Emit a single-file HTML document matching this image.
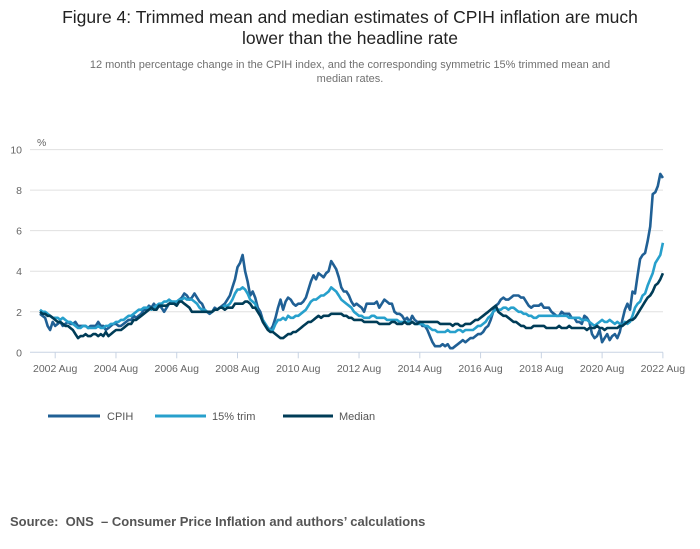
<!DOCTYPE html>
<html><head><meta charset="utf-8">
<style>
body{margin:0;width:700px;height:549px;background:#fff;font-family:"Liberation Sans",sans-serif;position:relative;overflow:hidden}
#title{position:absolute;top:7px;left:55px;width:590px;text-align:center;font-size:17.5px;line-height:21px;color:#222}
#sub{position:absolute;top:58px;left:75px;width:550px;text-align:center;font-size:11px;line-height:14px;color:#707070}
#src{position:absolute;top:514px;left:10px;font-size:13px;font-weight:bold;color:#555}
svg{position:absolute;left:0;top:0}
</style></head><body>
<div id="title">Figure 4: Trimmed mean and median estimates of CPIH inflation are much lower than the headline rate</div>
<div id="sub">12 month percentage change in the CPIH index, and the corresponding symmetric 15% trimmed mean and median rates.</div>
<svg id="chart" width="700" height="549"></svg>
<div id="src">Source:&nbsp; ONS &nbsp;– Consumer Price Inflation and authors’ calculations</div>
<script>
const cpih=[1.9,1.8,1.7,1.3,1.1,1.5,1.3,1.4,1.5,1.3,1.4,
1.5,1.4,1.4,1.5,1.3,1.3,1.3,1.3,1.2,1.3,1.3,1.3,
1.5,1.3,1.3,1.1,1.2,1.3,1.4,1.4,1.3,1.3,1.4,1.5,
1.6,1.6,1.8,1.7,1.8,1.9,2.1,2.1,2.3,2.2,2.4,2.2,
2.3,2.2,2.0,2.2,2.4,2.5,2.4,2.5,2.6,2.7,2.9,2.8,
2.6,2.7,2.9,2.7,2.5,2.4,2.1,2.0,1.9,2.0,2.2,2.1,
2.2,2.3,2.4,2.6,2.8,3.2,3.6,4.2,4.4,4.8,4.0,3.5,
2.8,3.0,2.7,2.2,2.0,1.6,1.4,1.2,1.1,1.3,1.7,2.2,
2.6,2.1,2.5,2.7,2.6,2.4,2.3,2.4,2.4,2.5,2.7,3.1,
3.5,3.8,3.6,3.9,3.8,3.7,3.9,4.0,4.5,4.3,4.1,3.7,
3.2,3.0,3.0,2.8,2.5,2.3,2.4,2.3,2.2,2.0,2.4,2.4,
2.4,2.4,2.5,2.2,2.4,2.6,2.5,2.4,2.4,2.0,1.9,1.9,
1.8,1.6,1.7,1.5,1.8,1.6,1.5,1.5,1.3,1.3,1.1,0.8,
0.5,0.3,0.3,0.3,0.4,0.3,0.4,0.2,0.2,0.3,0.4,0.5,
0.6,0.5,0.6,0.7,0.7,0.8,0.9,0.9,1.0,1.2,1.3,1.6,
2.0,2.3,2.4,2.6,2.7,2.6,2.6,2.7,2.8,2.8,2.8,2.7,
2.7,2.5,2.3,2.2,2.3,2.3,2.3,2.4,2.2,2.2,2.2,2.0,
1.9,1.8,1.8,2.0,1.9,1.9,1.9,1.7,1.7,1.5,1.5,1.4,
1.8,1.7,1.5,0.9,0.7,0.8,1.1,0.5,0.7,0.9,0.6,0.8,
0.9,0.7,1.0,1.6,2.1,2.4,2.1,3.0,2.9,3.8,4.6,4.8,
4.9,5.5,6.2,7.8,7.9,8.2,8.8,8.6];
const trim=[2.1,2.0,2.0,1.9,1.8,1.7,1.7,1.7,1.6,1.7,1.6,
1.5,1.5,1.4,1.3,1.2,1.2,1.3,1.3,1.2,1.2,1.2,1.2,
1.3,1.2,1.2,1.3,1.3,1.4,1.4,1.5,1.5,1.6,1.6,1.7,
1.8,1.8,1.9,2.0,2.1,2.1,2.2,2.2,2.2,2.1,2.2,2.3,
2.4,2.4,2.5,2.5,2.6,2.5,2.5,2.5,2.6,2.6,2.7,2.6,
2.6,2.6,2.5,2.4,2.2,2.1,2.1,2.0,2.0,2.0,2.1,2.1,
2.2,2.2,2.3,2.3,2.4,2.6,2.9,3.1,3.1,3.2,3.1,2.9,
2.6,2.5,2.4,2.0,1.8,1.6,1.4,1.2,1.1,1.1,1.4,1.6,
1.6,1.7,1.6,1.8,1.7,1.7,1.8,1.8,1.9,2.0,2.1,2.3,
2.5,2.6,2.6,2.7,2.8,2.8,2.9,3.0,3.2,3.1,3.0,2.8,
2.6,2.5,2.4,2.3,2.2,2.0,1.9,1.8,1.8,1.7,1.7,1.7,
1.8,1.8,1.7,1.7,1.7,1.7,1.6,1.6,1.6,1.6,1.6,1.5,
1.5,1.5,1.5,1.5,1.5,1.4,1.4,1.4,1.4,1.3,1.3,1.2,
1.1,1.1,1.0,1.0,1.0,1.0,1.1,1.0,1.0,1.0,1.1,1.1,
1.0,1.1,1.1,1.1,1.1,1.2,1.3,1.3,1.4,1.5,1.7,1.8,
2.0,2.1,2.1,2.1,2.2,2.2,2.1,2.2,2.2,2.1,2.0,2.0,
1.9,1.9,1.8,1.8,1.7,1.7,1.8,1.8,1.8,1.8,1.8,1.8,
1.8,1.8,1.8,1.8,1.8,1.8,1.7,1.7,1.7,1.7,1.7,1.6,
1.6,1.6,1.5,1.4,1.3,1.4,1.5,1.6,1.5,1.5,1.6,1.5,
1.4,1.5,1.4,1.3,1.5,1.4,1.5,1.8,2.2,2.4,2.5,2.8,
2.9,3.3,3.6,3.9,4.4,4.6,4.8,5.4];
const median=[2.0,1.9,1.9,1.8,1.8,1.7,1.6,1.5,1.5,1.4,1.3,
1.3,1.2,1.1,0.9,0.7,0.8,0.8,0.9,0.8,0.8,0.9,0.9,
0.8,0.9,0.8,1.0,0.8,0.9,1.0,1.1,1.1,1.1,1.2,1.3,
1.4,1.4,1.6,1.6,1.7,1.8,1.9,2.0,2.1,2.2,2.1,2.1,
2.3,2.3,2.3,2.3,2.4,2.4,2.4,2.3,2.5,2.5,2.4,2.3,
2.2,2.0,2.0,2.0,2.0,2.0,2.0,2.0,2.0,2.0,2.1,2.1,
2.2,2.2,2.1,2.2,2.2,2.2,2.4,2.4,2.4,2.4,2.5,2.5,
2.4,2.2,2.2,2.0,1.8,1.5,1.3,1.1,1.0,1.0,0.9,0.8,
0.7,0.7,0.8,0.9,0.9,1.0,1.0,1.1,1.2,1.3,1.4,1.5,
1.5,1.6,1.7,1.8,1.7,1.8,1.8,1.8,1.9,1.9,1.9,1.9,
1.9,1.8,1.8,1.7,1.7,1.6,1.6,1.6,1.6,1.5,1.5,1.5,
1.5,1.5,1.5,1.4,1.4,1.4,1.4,1.4,1.5,1.5,1.4,1.4,
1.4,1.5,1.4,1.4,1.5,1.4,1.4,1.5,1.5,1.5,1.5,1.5,
1.5,1.5,1.5,1.4,1.4,1.4,1.4,1.4,1.3,1.4,1.4,1.3,
1.3,1.4,1.4,1.4,1.5,1.6,1.6,1.7,1.8,1.9,2.0,2.1,
2.2,2.3,2.0,1.9,1.8,1.8,1.7,1.6,1.5,1.5,1.4,1.3,
1.3,1.2,1.2,1.2,1.3,1.3,1.3,1.3,1.3,1.2,1.2,1.2,
1.2,1.2,1.3,1.2,1.2,1.2,1.3,1.2,1.2,1.2,1.2,1.2,
1.2,1.1,1.2,1.2,1.2,1.3,1.2,1.2,1.1,1.2,1.2,1.2,
1.2,1.2,1.3,1.3,1.4,1.5,1.6,1.6,1.7,1.9,2.1,2.3,
2.5,2.7,2.8,3.0,3.3,3.4,3.6,3.9];
const yTicks=[0,2,4,6,8,10];
const xTickLabels=["2002 Aug","2004 Aug","2006 Aug","2008 Aug","2010 Aug","2012 Aug","2014 Aug","2016 Aug","2018 Aug","2020 Aug","2022 Aug"];
const seriesNames=["CPIH","15% trim","Median"];
const colors=["#206095","#27a0cc","#003c57"];

const NS="http://www.w3.org/2000/svg";
const svg=document.getElementById('chart');
const X0=40,PX=2.532,Y0=352.3,PY=20.27;
const xs=i=>X0+i*PX; // i = months since Feb 2002
const ys=v=>Y0-v*PY;
function mk(t,a){const e=document.createElementNS(NS,t);for(const k in a)e.setAttribute(k,a[k]);svg.appendChild(e);return e;}
yTicks.forEach(v=>{
  const g=mk('line',{x1:30,x2:663,y1:ys(v),y2:ys(v),stroke:v===0?'#c8d3e3':'#e0e0e0','stroke-width':1});
  
  
  const t=mk('text',{x:22,y:ys(v)+4,'text-anchor':'end','font-size':10.5,fill:'#666','font-family':'Liberation Sans, sans-serif'});
  t.textContent=v;
  
  
});
const pct=mk('text',{x:37,y:146,'font-size':10.5,fill:'#666'});pct.textContent='%';


xTickLabels.forEach((l,k)=>{
  const x=xs(6+24*k);
  const tk=mk('line',{x1:x,x2:x,y1:Y0,y2:Y0+6,stroke:'#c8d3e3'});
  
  
  const t=mk('text',{x:x,y:372,'text-anchor':'middle','font-size':10.5,fill:'#666'});
  t.textContent=l;
  
  
});
[cpih,trim,median].forEach((d,s)=>{
  const p=mk('polyline',{points:d.map((v,i)=>xs(i).toFixed(1)+','+ys(v).toFixed(1)).join(' '),fill:'none',stroke:colors[s],'stroke-width':2.6,'stroke-linejoin':'round'});
  
  
});
const lx=[48,155,283],lw=[52,51,50],tx=[107,212,339];
seriesNames.forEach((n,s)=>{
  const l=mk('line',{x1:lx[s],x2:lx[s]+lw[s],y1:416,y2:416,stroke:colors[s],'stroke-width':3});
  
  
  const t=mk('text',{x:tx[s],y:420,'font-size':11,fill:'#555'});
  t.textContent=n;
  
  
});
</script>
</body></html>
